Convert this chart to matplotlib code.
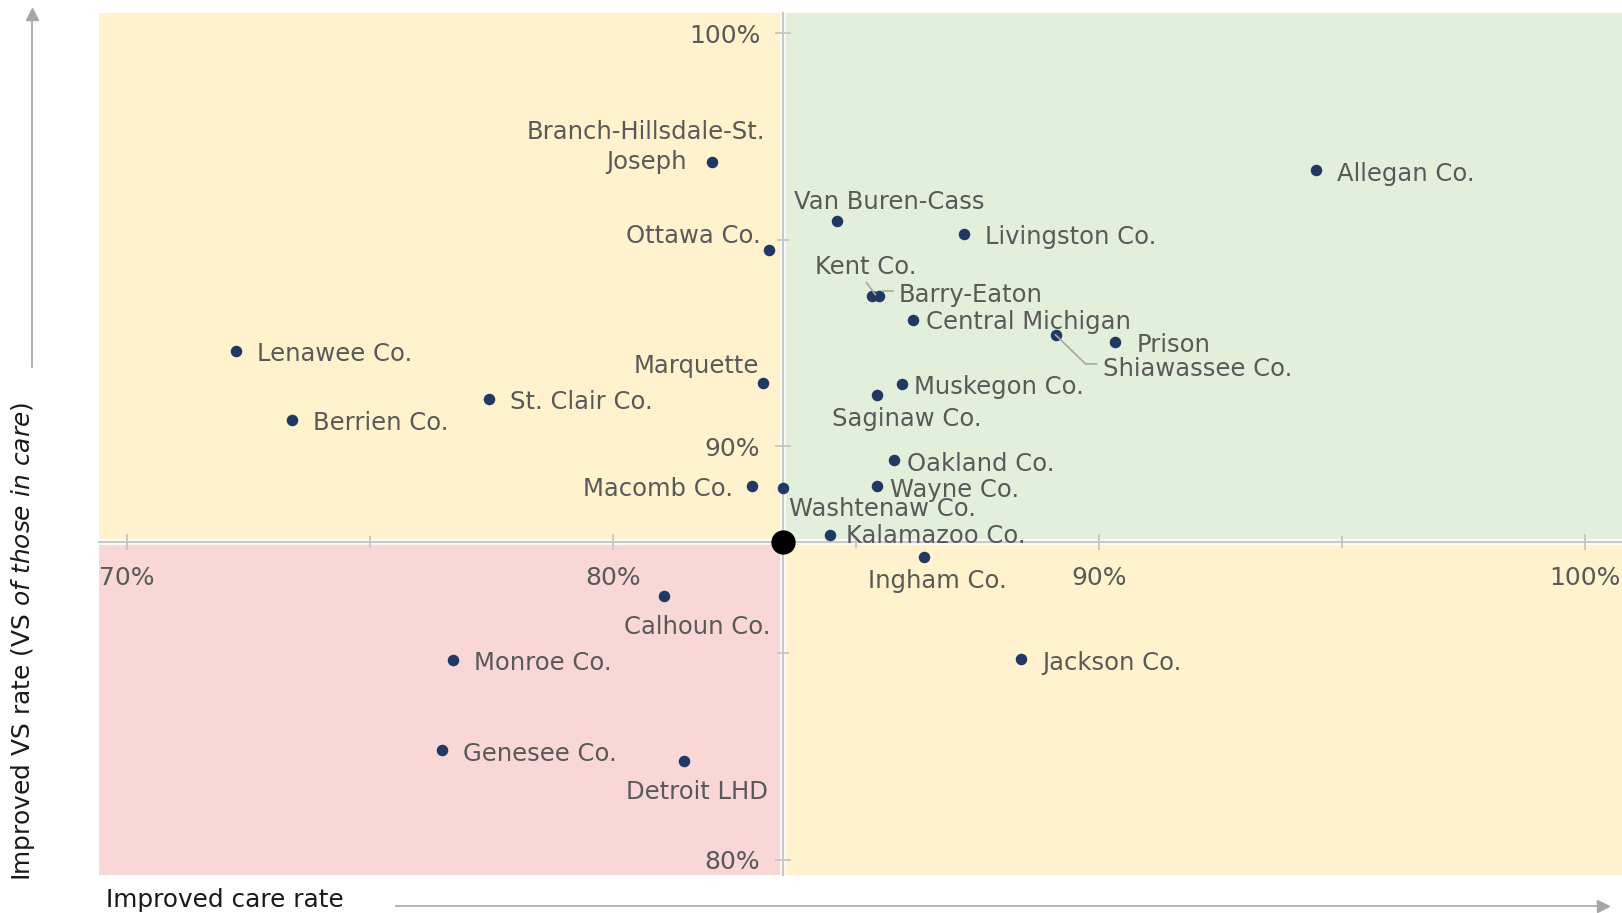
import numpy as np
import matplotlib
matplotlib.use("Agg")
import matplotlib.pyplot as plt
import matplotlib.transforms as mtransforms
from matplotlib.lines import Line2D
from matplotlib.patches import Rectangle

# data: improved care rate (x, %) vs improved VS rate (y, %)
names = ["Branch-Hillsdale-St.\nJoseph", "Allegan Co.", "Van Buren-Cass", "Livingston Co.",
         "Ottawa Co.", "Kent Co.", "Barry-Eaton", "Central Michigan", "Shiawassee Co.",
         "Prison", "Lenawee Co.", "Marquette", "Muskegon Co.", "Saginaw Co.",
         "St. Clair Co.", "Berrien Co.", "Oakland Co.", "Wayne Co.", "Macomb Co.",
         "Washtenaw Co.", "Kalamazoo Co.", "Ingham Co.", "Calhoun Co.", "Jackson Co.",
         "Monroe Co.", "Genesee Co.", "Detroit LHD"]
care_rate = [82.04, 94.47, 84.62, 87.23, 83.21, 85.34, 85.47, 86.17, 89.11,
             90.34, 72.23, 83.09, 85.94, 85.43, 77.45, 73.40, 85.79, 85.43, 82.87,
             83.49, 84.47, 86.40, 81.04, 88.40, 76.70, 76.49, 81.47]
vs_rate = [96.88, 96.68, 95.45, 95.13, 94.75, 93.65, 93.63, 93.05, 92.70,
           92.53, 92.30, 91.53, 91.50, 91.25, 91.15, 90.65, 89.68, 89.05, 89.05,
           89.00, 87.85, 87.33, 86.38, 84.85, 84.83, 82.65, 82.40]
# state average (quadrant centre)
avg_care = 83.51
avg_vs = 87.68

x_major = [70, 80, 90, 100]
x_minor = [75, 85, 95]
y_major = [80, 90, 100]
y_minor = [85, 95]

# label placement: (dx px, dy px, ha)
label_pos = {
    "Branch-Hillsdale-St.\nJoseph": (-66, 15, "center"),
    "Allegan Co.": (21, -4, "left"),
    "Van Buren-Cass": (52, 19, "center"),
    "Livingston Co.": (21, -3, "left"),
    "Ottawa Co.": (-8, 14, "right"),
    "Kent Co.": (-7, 29, "center"),
    "Barry-Eaton": (20, 1, "left"),
    "Central Michigan": (13, -2, "left"),
    "Shiawassee Co.": (47, -34, "left"),
    "Prison": (21, -3, "left"),
    "Lenawee Co.": (21, -3, "left"),
    "Marquette": (-4, 17, "right"),
    "Muskegon Co.": (12, -3, "left"),
    "Saginaw Co.": (30, -24, "center"),
    "St. Clair Co.": (21, -3, "left"),
    "Berrien Co.": (21, -3, "left"),
    "Oakland Co.": (13, -4, "left"),
    "Wayne Co.": (13, -4, "left"),
    "Macomb Co.": (-19, -3, "right"),
    "Washtenaw Co.": (6, -21, "left"),
    "Kalamazoo Co.": (16, -1, "left"),
    "Ingham Co.": (13, -24, "center"),
    "Calhoun Co.": (34, -31, "center"),
    "Jackson Co.": (21, -4, "left"),
    "Monroe Co.": (21, -3, "left"),
    "Genesee Co.": (21, -4, "left"),
    "Detroit LHD": (13, -31, "center"),
}

plt.rcParams["font.family"] = ["DejaVu Sans"]
plt.rcParams["mathtext.fontset"] = "dejavusans"

YELLOW = "#fff2cc"
GREEN = "#e2efda"
PINK = "#f9d7d7"
NAVY = "#1f3864"
TXT = "#595959"
AXC = "#c8c8c8"

W, H = 1622, 913
fig = plt.figure(figsize=(W / 100, H / 100), dpi=100)
ax = fig.add_axes([99 / W, 1 - 875 / H, 1 - 99 / W, (875 - 13.4) / H])
x0, x1 = 69.42, 100.77
y0, y1 = 79.63, 100.48
ax.set_xlim(x0, x1)
ax.set_ylim(y0, y1)

# quadrant backgrounds
ax.add_patch(Rectangle((x0, avg_vs), avg_care - x0, y1 - avg_vs, color=YELLOW, lw=0, zorder=0))
ax.add_patch(Rectangle((avg_care, avg_vs), x1 - avg_care, y1 - avg_vs, color=GREEN, lw=0, zorder=0))
ax.add_patch(Rectangle((x0, y0), avg_care - x0, avg_vs - y0, color=PINK, lw=0, zorder=0))
ax.add_patch(Rectangle((avg_care, y0), x1 - avg_care, avg_vs - y0, color=YELLOW, lw=0, zorder=0))
ax.axvline(avg_care, color="white", lw=4, zorder=0.5)
ax.axhline(avg_vs, color="white", lw=4, zorder=0.5)

for s in ["top", "right"]:
    ax.spines[s].set_visible(False)
ax.spines["bottom"].set_position(("data", avg_vs))
ax.spines["left"].set_position(("data", avg_care))
for s in ["bottom", "left"]:
    ax.spines[s].set_color(AXC)
    ax.spines[s].set_linewidth(1.6)
    ax.spines[s].set_zorder(1)

ax.set_xticks(x_major)
ax.set_xticks(x_minor, minor=True)
ax.set_yticks(y_major)
ax.set_yticks(y_minor, minor=True)
ax.set_xticklabels([f"{v}%" for v in x_major])
ax.set_yticklabels([f"{v}%" for v in y_major])
ax.tick_params(which="major", direction="inout", length=11.5, width=1.4, color=AXC,
               labelcolor=TXT, labelsize=18)
ax.tick_params(which="minor", direction="inout", length=8, width=1.4, color=AXC)
ax.tick_params(axis="x", which="major", pad=11.5)
ax.tick_params(axis="y", which="major", pad=11)

# points
ax.scatter(care_rate, vs_rate, s=8.3 ** 2, color=NAVY, zorder=3, linewidths=0)
ax.scatter([avg_care], [avg_vs], s=17.5 ** 2, color="black", zorder=4, linewidths=0)

for n, xv, yv in zip(names, care_rate, vs_rate):
    dx, dy, ha = label_pos[n]
    ax.annotate(n, (xv, yv), xytext=(dx, dy), textcoords="offset pixels",
                ha=ha, va="center", multialignment="center", color=TXT,
                fontsize=17.5, zorder=5, linespacing=1.35)

# leader lines
def leader(name, pts):
    i = names.index(name)
    X, Y = ax.transData.transform((care_rate[i], vs_rate[i]))
    fig.add_artist(Line2D([X + p[0] for p in pts], [Y + p[1] for p in pts],
                          transform=mtransforms.IdentityTransform(),
                          color="#a6a6a6", lw=1.2, zorder=2))

leader("Kent Co.", [(-6, 13), (3, 1)])
leader("Barry-Eaton", [(4, 5), (14, 5)])
leader("Shiawassee Co.", [(0, 0), (30, -29), (41, -29)])

# axis titles and arrows
fig.text(106 / W, 1 - 900 / H, "Improved care rate", ha="left", va="center",
         fontsize=17.8, color="#1a1a1a")
fig.add_artist(Line2D([396 / W, 1603 / W], [1 - 906 / H, 1 - 906 / H], color="#a6a6a6", lw=1.2))
fig.add_artist(Line2D([1603 / W], [1 - 906 / H], marker=">", markersize=9, color="#a6a6a6", lw=0))

fig.text(23 / W, 1 - 881 / H, r"Improved VS rate (VS $\mathit{of\ those\ in\ care}$)",
         rotation=90, ha="center", va="bottom", fontsize=17.9, color="#1a1a1a")
fig.add_artist(Line2D([32 / W, 32 / W], [1 - 367 / H, 1 - 14 / H], color="#a6a6a6", lw=1.2))
fig.add_artist(Line2D([32 / W], [1 - 14 / H], marker="^", markersize=9, color="#a6a6a6", lw=0))

fig.savefig("out.png", dpi=100)
